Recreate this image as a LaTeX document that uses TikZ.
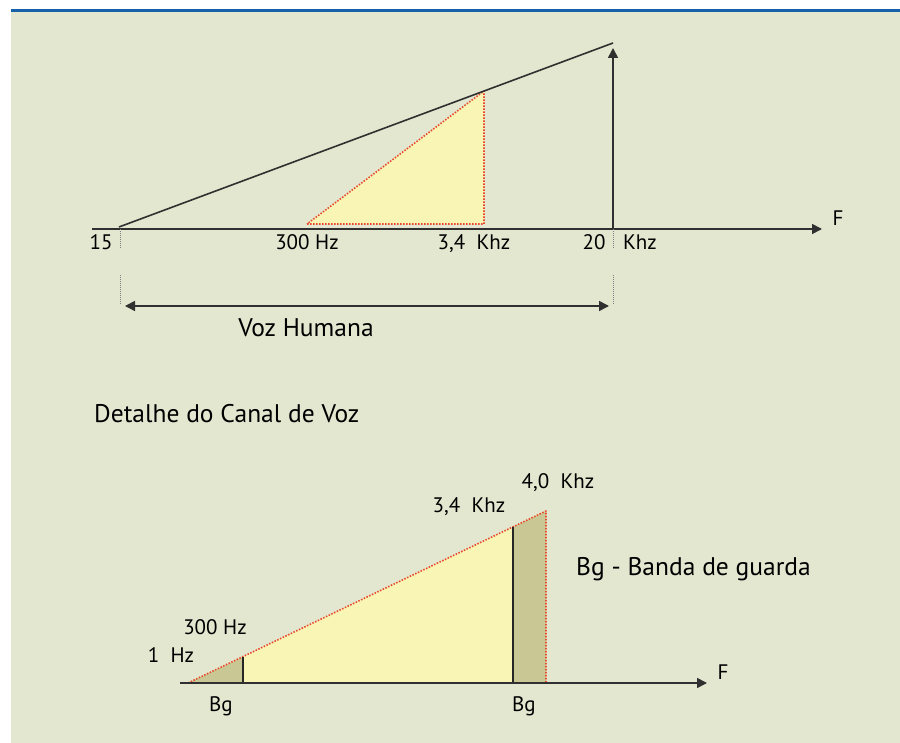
\documentclass[tikz,border=0pt]{standalone}
\usepackage{fontspec}
\setmainfont{PT Sans}
\usetikzlibrary{arrows.meta}
\definecolor{fundo}{HTML}{E3E7CF}
\definecolor{faixa}{HTML}{1562A8}
\definecolor{amarelo}{HTML}{F8F5B5}
\definecolor{guarda}{HTML}{C9C793}
\definecolor{vermelho}{HTML}{E8482C}
\definecolor{traco}{HTML}{303030}
\begin{document}
\begin{tikzpicture}[x=1pt, y=-1pt, line join=round, >={Triangle[length=10pt,width=10pt]}, font=\fontsize{21}{24}\selectfont]
	\tikzset{eixo/.style={traco, line width=1.6pt},
		pontilhado/.style={vermelho, line width=1.6pt, dash pattern=on 1.5pt off 1.5pt},
		marca/.style={gray, line width=1pt, dash pattern=on 1pt off 1pt},
		limite/.style={black!85, line width=2.6pt},
		titulo/.style={font=\fontsize{25.5}{29}\selectfont}}
	\useasboundingbox (0,0) rectangle (900,743);
	\fill[fundo] (11,12) rectangle (900,743);
	\fill[faixa] (11,9) rectangle (900,12.5);
	% espectro audivel
	\path (92,229) coordinate (O)
	(822,229) coordinate (F)
	(119,227) coordinate (A)
	(613,43) coordinate (B)
	(613,229) coordinate (M)
	(613,48) coordinate (N)
	(307,224) coordinate (P)
	(484,224) coordinate (Q)
	(484,91) coordinate (R)
	;
	\fill[amarelo] (P)--(Q)--(R)--cycle;
	\draw[pontilhado] (P)--(Q)--(R)--cycle;
	\draw[eixo,->] (O)--(F);
	\draw[eixo] (A)--(B);
	\draw[eixo,->] (M)--(N);
	\foreach \x in {120,613}{
		\draw[marca] (\x,229)--(\x,248);
		\draw[marca] (\x,275)--(\x,305);
	}
	\draw[eixo,<->] (125,306) coordinate (V1)--(609,306) coordinate (V2);
	\foreach \n/\x/\t in {f15/101/15, f300/307/300 Hz, f34/474/{3,4\ \ Khz}, f20/594/20, fk/640/Khz}
	\node[anchor=base] (\n) at (\x,250) {\t};
	\node[anchor=base] (eixoF) at (838,226) {F};
	\node[titulo,anchor=base] (voz) at (306,337) {Voz Humana};
	\node[titulo,anchor=base west,inner sep=0pt] (detalhe) at (94,422) {Detalhe do Canal de Voz};
	% canal de voz
	\path (180,683) coordinate (O2)
	(707,683) coordinate (F2)
	(188,683) coordinate (G0)
	(243,657) coordinate (G1)
	(243,683) coordinate (G1b)
	(513,527) coordinate (G2)
	(513,683) coordinate (G2b)
	(546,511) coordinate (G3)
	(546,683) coordinate (G3b)
	;
	\fill[amarelo] (G0)--(G3)--(G3b)--cycle;
	\fill[guarda] (G0)--(G1)--(G1b)--cycle;
	\fill[guarda] (G2)--(G3)--(G3b)--(G2b)--cycle;
	\draw[pontilhado] (G0)--(G3)--(G3b);
	\draw[limite] (G1)--(G1b);
	\draw[limite] (G2)--(G2b);
	\draw[eixo,->] (O2)--(F2);
	\node[anchor=base] (eixoF2) at (723,679) {F};
	\foreach \n/\x/\y/\t in {c40/558/488/{4,0\ \ Khz}, c34/469/512/{3,4\ \ Khz}, c300/215/634/300 Hz, c1/171/662/1\ \ Hz, bg1/221/711/Bg, bg2/524/711/Bg}
	\node[anchor=base] (\n) at (\x,\y) {\t};
	\node[titulo,anchor=base west,inner sep=0pt] (legenda) at (576,575) {Bg - Banda de guarda};
\end{tikzpicture}
\end{document}
